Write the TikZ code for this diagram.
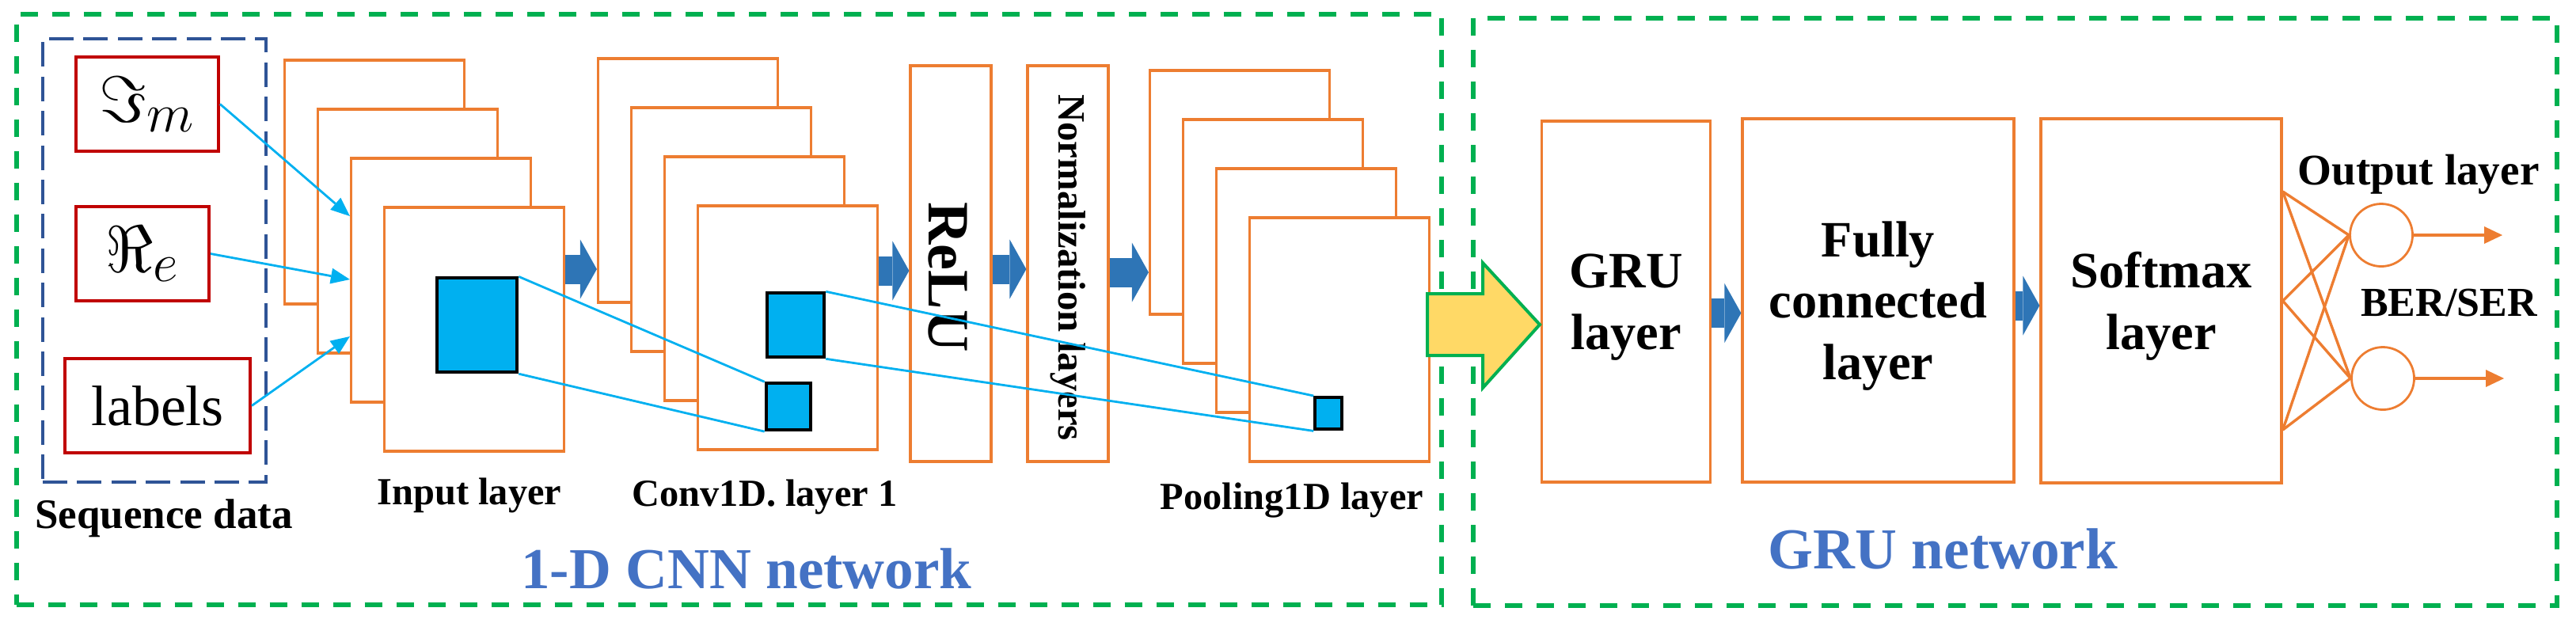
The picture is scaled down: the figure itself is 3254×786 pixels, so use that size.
\documentclass[tikz,border=0pt]{standalone}
\usepackage{fontspec}
\setmainfont{Liberation Serif}
\usetikzlibrary{arrows.meta,calc}
\definecolor{orangeL}{HTML}{ED7D31}
\definecolor{redB}{HTML}{C00000}
\definecolor{cyanL}{HTML}{00B0F0}
\definecolor{arrowBlue}{HTML}{2E75B6}
\definecolor{greenD}{HTML}{00B050}
\definecolor{navyD}{HTML}{2F5496}
\definecolor{yellowF}{HTML}{FFD966}
\definecolor{textBlue}{HTML}{4472C4}
\newcommand{\subm}[1]{\mbox{\fontsize{17}{17}\selectfont$#1$}}
\tikzset{
  greenbox/.style={draw=greenD, line width=1.45pt, dash pattern=on 5.5pt off 4.5pt, inner sep=0pt},
  navybox/.style={draw=navyD, line width=0.85pt, dash pattern=on 7.75pt off 3.1pt, inner sep=0pt},
  redbox/.style={draw=redB, line width=1pt, minimum height=29.75pt, inner sep=0pt, font=\fontsize{22}{24}\selectfont},
  stackbox/.style={draw=orangeL, line width=0.8pt, fill=white, minimum width=56.75pt, minimum height=77pt, inner sep=0pt},
  layerbox/.style={draw=orangeL, line width=0.8pt, fill=white, inner sep=0pt, align=center, font=\bfseries\fontsize{16.1}{19.4}\selectfont, text depth=0pt},
  bluesq/.style={draw=black, line width=1pt, fill=cyanL, inner sep=0pt},
  cyanline/.style={draw=cyanL, line width=0.7pt},
  cyanarrow/.style={cyanline, -{Triangle[length=6pt,width=5pt,line width=0pt]}},
  blockarrow/.style={draw=arrowBlue, line width=9.25pt, -{Triangle[length=5.25pt,width=18.75pt,line width=0pt]}},
  yellowarrow/.style={draw=greenD, fill=yellowF, line width=1pt, line join=miter},
  neuron/.style={circle, draw=orangeL, line width=0.7pt, minimum size=19.75pt, inner sep=0pt},
  orangeline/.style={draw=orangeL, line width=0.85pt},
  outarrow/.style={draw=orangeL, line width=1pt, -{Triangle[length=5.75pt,width=5.5pt,line width=0pt]}},
  lbl/.style={anchor=base, inner sep=0pt, font=\bfseries\fontsize{12.1}{14}\selectfont},
  netlbl/.style={anchor=base, inner sep=0pt, text=textBlue, font=\bfseries\fontsize{18.3}{20}\selectfont},
  vlbl/.style={rotate=-90, inner sep=0pt}
}
\begin{document}
\begin{tikzpicture}[x=0.25pt,y=-0.25pt]
\useasboundingbox (0,0) rectangle (3254,786);
% containers
\node[greenbox, minimum width=450.1pt, minimum height=186.6pt] (cnnbox) at (920.9,390.9) {};
\node[greenbox, minimum width=342.25pt, minimum height=185.5pt] (grubox) at (2545.5,394) {};
\node[navybox, minimum width=70.5pt, minimum height=140pt] (seqbox) at (195,329) {};
% sequence data
\node[redbox, minimum width=45pt] (im) at (186,131.5) {$\Im_{\subm{m}}$};
\node[redbox, minimum width=42pt] (re) at (180,320.5) {$\Re_{\subm{e}}$};
\node[redbox, minimum width=58.5pt, font=\fontsize{18}{20}\selectfont] (lab) at (199,512.5) {labels};
% stacks
\foreach \i/\x/\y in {1/473/230, 2/515/292, 3/557/354, 4/599/416}
  \node[stackbox] (in\i) at (\x,\y) {};
\foreach \i/\x/\y in {1/869/228, 2/911/290, 3/953/352, 4/995/414}
  \node[stackbox] (cv\i) at (\x,\y) {};
\foreach \i/\x/\y in {1/1566/243, 2/1608/305, 3/1650/367, 4/1692/429}
  \node[stackbox] (pl\i) at (\x,\y) {};
% relu / norm
\node[layerbox, minimum width=25.5pt, minimum height=125pt] (relu) at (1201,333) {};
\node[layerbox, minimum width=25.5pt, minimum height=125pt] (norm) at (1349,333) {};
\node[vlbl, font=\bfseries\fontsize{18.5}{20}\selectfont] (relutxt) at (1197,350) {ReLU};
\node[vlbl, font=\bfseries\fontsize{12.2}{14}\selectfont] (normtxt) at (1349,338) {Normalization layers};
% squares
\node[bluesq, minimum width=25.4pt, minimum height=29.7pt] (sq1) at (602.5,410.8) {};
\node[bluesq, minimum width=18pt, minimum height=20.25pt] (sq2b) at (1005.3,410.8) {};
\node[bluesq, minimum width=14pt, minimum height=14.7pt] (sq2s) at (995.7,513.7) {};
\node[bluesq, minimum width=8.35pt, minimum height=10.1pt] (sq3) at (1678,522.2) {};
% GRU side
\node[layerbox, minimum width=53.25pt, minimum height=114pt] (gru) at (2054,381) {GRU\\layer};
\node[layerbox, minimum width=85.75pt, minimum height=114.75pt] (fc) at (2372.5,379.5) {Fully\\connected\\layer};
\node[layerbox, minimum width=76pt, minimum height=115pt] (sm) at (2730,380) {Softmax\\layer};
\node[neuron] (c1) at (3008,297) {};
\node[neuron] (c2) at (3010,478) {};
\coordinate (p1) at (sm.east |- 0,242);
\coordinate (p2) at (sm.east);
\coordinate (p3) at (sm.east |- 0,543);
\coordinate (o1) at (3161,297);
\coordinate (o2) at (3163,478);
% cyan input arrows
\draw[cyanarrow] (im.east) -- (in3.west |- 0,273);
\draw[cyanarrow] (re.east) -- (in3.west |- 0,353);
\draw[cyanarrow] (lab.east) -- (in3.west |- 0,425);
% block arrows
\draw[blockarrow] (in4.east |- 0,340) -- (cv1.west |- 0,340);
\draw[blockarrow] (cv4.east |- 0,342) -- (relu.west |- 0,342);
\draw[blockarrow] (relu.east |- 0,340) -- (norm.west |- 0,340);
\draw[blockarrow] (norm.east |- 0,344) -- (pl1.west |- 0,344);
\draw[blockarrow] (gru.east |- 0,395.5) -- (fc.west |- 0,395.5);
\draw[blockarrow] (fc.east |- 0,386) -- (sm.west |- 0,386);
% yellow arrow
\draw[yellowarrow] (1803,371) -- (1873,371) -- (1873,332) -- (1945,410) -- (1873,490) -- (1873,449) -- (1803,449) -- cycle;
% receptive field lines
\draw[cyanline] (sq1.north east) -- (sq2s.north west);
\draw[cyanline] (sq1.south east) -- (sq2s.south west);
\draw[cyanline] (sq2b.north east) -- (sq3.north west);
\draw[cyanline] (sq2b.south east) -- (sq3.south west);
% output layer
\foreach \p in {p1,p2,p3} {
  \draw[orangeline] (\p) -- (c1.west);
  \draw[orangeline] (\p) -- (c2.west);
}
\draw[outarrow] (c1.east) -- (o1);
\draw[outarrow] (c2.east) -- (o2);
% labels
\node[lbl, font=\bfseries\fontsize{13.25}{15}\selectfont] (seqlbl) at (207,667) {Sequence data};
\node[lbl] (inlbl) at (593,637) {Input layer};
\node[lbl] (cvlbl) at (966,639) {Conv1D. layer 1};
\node[lbl] (pllbl) at (1632,643) {Pooling1D layer};
\node[lbl, font=\bfseries\fontsize{13.8}{15}\selectfont] (outlbl) at (3055,233) {Output layer};
\node[lbl, font=\bfseries\fontsize{13}{15}\selectfont] (berlbl) at (3093.5,399) {BER/SER};
\node[netlbl] (cnnlbl) at (943,743) {1-D CNN network};
\node[netlbl] (grulbl) at (2454.5,718) {GRU network};
\end{tikzpicture}
\end{document}
